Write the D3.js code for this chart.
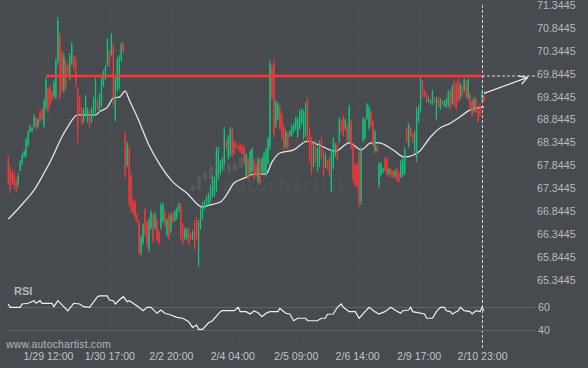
<!DOCTYPE html>
<html><head><meta charset="utf-8">
<script src="https://cdn.jsdelivr.net/npm/d3@7"></script>
<style>html,body{margin:0;padding:0;background:#474a4f;overflow:hidden}</style>
</head><body>
<svg id="c" width="588" height="368"></svg>
<script>
const opens=[67.97,67.75,67.68,67.62,67.50,67.40,67.72,67.88,68.02,68.05,
68.28,68.57,68.58,68.68,68.85,68.68,68.98,69.02,68.70,69.10,
69.48,69.52,69.43,69.34,69.32,70.08,70.65,70.28,69.47,70.06,
70.02,69.74,70.06,70.20,70.13,69.47,69.28,69.04,68.80,68.93,
68.80,68.99,68.80,68.93,69.02,69.22,69.02,69.15,69.58,69.73,
70.03,70.30,70.25,70.44,68.85,69.50,69.55,70.13,70.48,68.50,
67.85,68.20,67.60,67.07,67.02,66.75,66.58,65.92,66.14,66.86,
66.58,66.00,66.47,66.73,66.47,66.62,66.38,66.48,66.62,66.81,
66.32,66.73,66.40,66.77,66.63,66.68,66.84,66.95,66.52,66.24,
66.24,66.44,66.32,66.23,66.58,66.64,65.70,66.48,66.68,66.89,
66.95,67.00,67.05,67.17,67.19,67.32,67.57,67.66,67.77,67.90,
68.34,68.00,68.06,68.59,68.34,68.30,68.25,68.29,68.24,68.22,
67.63,67.94,67.63,67.71,67.94,67.84,67.50,67.94,67.66,67.70,
67.63,67.89,68.25,69.96,70.05,68.70,68.86,69.10,68.92,68.66,
68.25,68.51,68.48,68.48,68.57,68.63,68.48,68.64,68.75,68.44,
68.52,69.23,68.60,68.38,67.85,68.32,67.74,67.85,68.40,68.12,
67.81,67.92,67.96,67.32,67.79,68.05,68.28,68.37,68.78,68.88,
68.63,68.71,68.40,68.76,68.26,67.83,67.83,68.10,67.05,68.37,
68.43,68.86,68.65,68.99,68.77,68.15,68.24,67.40,67.62,67.68,
67.97,67.96,67.65,67.74,67.70,67.58,67.75,67.66,67.59,67.62,
67.67,68.62,68.26,68.64,68.51,68.15,67.98,68.80,69.02,69.64,
69.45,69.40,69.23,69.17,69.19,69.30,68.87,69.29,69.07,69.24,
69.13,69.11,69.14,69.43,69.19,69.64,69.60,69.69,69.30,69.55,
69.47,69.64,69.30,69.37,69.22,69.01,69.26,69.04,69.15,69.23,
69.35];
const highs=[68.03,67.82,67.73,67.69,67.55,67.66,67.95,68.10,68.17,68.43,
68.60,68.71,68.67,68.95,68.89,68.86,69.04,69.08,69.28,69.76,
69.54,69.58,69.48,69.69,70.17,71.07,70.72,70.35,70.28,70.13,
70.06,70.28,70.52,70.24,70.20,69.54,69.34,69.10,69.08,69.37,
69.10,69.04,69.10,69.32,69.74,69.26,69.41,69.76,69.91,70.02,
70.61,70.35,70.72,70.50,69.76,70.20,70.24,70.52,70.52,68.56,
68.34,68.27,67.66,67.12,67.07,66.79,66.64,66.31,66.57,66.92,
66.64,66.70,66.86,66.79,66.81,66.68,66.42,67.01,67.03,66.86,
66.68,66.79,66.79,66.81,66.86,66.92,67.01,67.01,66.57,66.48,
66.46,66.48,66.35,66.42,66.64,66.70,66.64,66.92,67.03,67.07,
67.18,67.23,67.40,67.62,67.58,68.23,68.23,67.95,68.01,68.67,
68.38,68.49,68.67,68.65,68.38,68.32,68.27,68.32,68.27,68.27,
68.10,67.99,68.17,68.23,67.99,67.88,68.01,67.99,68.01,68.12,
68.21,68.45,70.13,70.02,70.13,69.26,69.21,69.15,68.97,68.71,
68.60,68.56,68.60,68.71,68.76,68.89,68.89,69.04,69.08,69.04,
69.21,69.30,68.67,68.45,68.32,68.38,68.23,68.38,68.45,68.17,
68.10,67.95,68.01,68.17,68.45,68.32,68.32,68.89,68.82,68.93,
68.86,68.76,69.15,68.82,68.32,67.88,67.88,68.17,68.23,68.89,
68.86,69.19,69.15,69.04,68.82,68.60,68.27,67.90,67.90,67.79,
68.01,68.01,67.79,67.77,67.73,67.73,67.79,67.69,67.95,68.01,
68.23,68.67,68.76,68.67,68.54,68.60,69.10,69.15,69.76,69.69,
69.48,69.43,69.32,69.26,69.48,69.32,69.32,69.32,69.30,69.26,
69.26,69.30,69.48,69.48,69.58,69.69,69.65,69.74,69.65,69.58,
69.74,69.69,69.74,69.41,69.26,69.32,69.30,69.08,69.19,69.45,
69.37];
const lows=[67.40,67.23,67.40,67.34,67.23,67.36,67.69,67.84,67.99,68.01,
68.23,68.54,68.56,68.65,68.60,68.65,68.76,68.82,68.65,69.04,
68.97,69.10,69.21,69.30,69.26,70.02,69.26,69.43,69.41,69.48,
69.80,69.69,70.02,69.91,69.54,68.27,68.97,68.71,68.76,68.89,
68.76,68.65,68.76,68.89,68.97,69.04,68.97,69.10,69.54,69.69,
69.98,69.98,70.20,69.10,68.78,69.43,69.48,70.09,70.28,67.55,
67.79,66.92,66.79,66.75,66.64,66.57,65.87,65.87,66.09,66.27,
66.05,65.94,66.42,66.14,66.42,66.14,66.09,66.42,66.57,66.48,
66.27,66.20,66.35,66.57,66.59,66.64,66.81,66.20,66.09,66.20,
66.20,66.09,66.20,66.20,65.98,66.20,65.61,66.42,66.64,66.86,
66.92,66.96,67.01,67.12,67.14,67.25,67.51,67.62,67.73,67.84,
68.17,67.95,68.01,68.01,68.06,68.21,68.17,68.10,68.06,67.84,
67.58,67.51,67.58,67.66,67.51,67.58,67.45,67.40,67.62,67.66,
67.58,67.84,68.17,69.26,68.43,68.65,68.82,68.60,68.38,68.17,
68.21,68.17,68.45,68.45,68.54,68.60,68.43,68.60,68.71,68.38,
68.45,68.32,67.88,67.62,67.79,67.88,67.69,67.79,67.99,67.58,
67.77,67.73,67.58,67.25,67.73,68.01,67.95,68.32,68.54,68.45,
68.60,68.34,68.34,68.17,67.45,67.36,67.34,66.92,66.96,68.32,
68.38,68.82,68.60,68.67,68.23,68.10,68.10,67.34,67.58,67.66,
67.69,67.58,67.62,67.55,67.55,67.55,67.47,67.45,67.55,67.58,
67.62,68.32,68.21,68.45,68.32,68.10,67.90,68.76,68.97,69.30,
69.32,69.19,69.21,69.15,69.15,69.19,68.82,69.10,69.04,69.15,
69.10,69.08,69.10,69.04,69.15,69.10,69.04,69.19,69.26,69.32,
69.43,69.30,69.26,69.04,68.89,68.97,68.97,68.76,68.89,69.19,
69.21];
const closes=[67.48,67.30,67.45,67.40,67.30,67.60,67.90,68.05,68.13,68.38,
68.55,68.67,68.64,68.90,68.65,68.82,68.80,68.86,69.22,69.70,
69.02,69.15,69.26,69.63,70.10,70.98,69.32,69.50,70.20,69.54,
69.84,70.22,70.46,69.95,69.60,68.60,69.02,68.76,69.03,69.32,
69.05,68.70,69.05,69.27,69.68,69.08,69.36,69.70,69.86,69.97,
70.55,70.03,70.66,69.30,69.70,70.13,70.18,70.46,70.32,67.65,
68.28,67.00,66.86,66.80,66.70,66.61,65.95,66.26,66.52,66.33,
66.10,66.64,66.80,66.20,66.76,66.20,66.13,66.95,66.98,66.53,
66.63,66.26,66.74,66.61,66.82,66.88,66.97,66.27,66.14,66.44,
66.42,66.14,66.23,66.38,66.04,66.26,66.58,66.86,66.98,67.03,
67.14,67.19,67.35,67.57,67.53,68.16,68.17,67.90,67.97,68.60,
68.21,68.44,68.61,68.07,68.10,68.23,68.19,68.13,68.09,67.89,
68.05,67.56,68.12,68.18,67.56,67.62,67.96,67.45,67.97,68.07,
68.16,68.40,70.05,69.32,68.50,69.20,69.16,68.65,68.43,68.22,
68.56,68.22,68.57,68.67,68.72,68.85,68.84,68.99,69.04,68.98,
69.15,68.40,67.95,67.70,68.26,67.94,68.18,68.32,68.04,67.64,
68.06,67.76,67.63,68.10,68.39,68.28,67.99,68.84,68.58,68.50,
68.82,68.38,69.09,68.22,67.52,67.41,67.39,67.00,68.16,68.84,
68.81,69.14,69.10,68.71,68.28,68.55,68.13,67.85,67.86,67.76,
67.73,67.63,67.76,67.58,67.58,67.70,67.51,67.48,67.91,67.96,
68.18,68.36,68.70,68.48,68.35,68.55,69.03,69.10,69.70,69.34,
69.35,69.22,69.30,69.24,69.44,69.21,69.27,69.13,69.26,69.17,
69.23,69.27,69.43,69.08,69.54,69.15,69.09,69.23,69.60,69.35,
69.70,69.34,69.70,69.08,68.93,69.28,69.01,68.79,68.93,69.40,
69.24];
// moving average (sampled at candle indices)
const maIdx=[0,3,8,13,18,21,24,27,30,35,40,44,46,50,53,56,59,61,65,71,76,83,90,98,101,107,110,114,119,124,130,133,137,144,151,157,165,172,178,183,187,194,200,207,213,218,223,228,233,240];
const maVal=[66.66,66.79,67.03,67.29,67.66,67.90,68.17,68.45,68.67,68.93,68.93,68.93,69.00,69.10,69.30,69.32,69.45,69.26,68.89,68.27,67.88,67.47,67.23,66.92,66.96,67.03,67.18,67.45,67.55,67.64,67.64,67.90,68.10,68.17,68.36,68.27,68.14,68.32,68.17,68.32,68.32,68.17,68.01,68.12,68.45,68.65,68.75,68.89,69.04,69.10];
// RSI
const rsiIdx=[0,1,6,7,10,13,14,16,17,22,23,25,28,30,33,36,38,41,45,46,50,51,53,54,56,58,60,61,63,65,68,70,72,75,77,79,82,85,88,91,93,95,96,98,101,103,107,108,114,116,117,120,122,124,126,128,130,132,136,137,140,142,144,146,150,151,156,158,160,161,164,166,168,169,172,175,177,180,182,185,187,190,193,195,198,199,202,203,204,210,211,214,216,218,220,221,223,224,226,227,228,230,233,234,236,238,239,240];
const rsiVal=[62.3,59.5,59.5,62.3,62.9,65.1,62.9,65.1,62.9,62.9,60.0,65.1,60.0,56.4,62.9,62.3,60.0,59.5,68.5,69.1,69.1,65.7,65.1,62.3,65.7,68.5,64.2,65.1,62.9,60.6,56.6,59.5,59.5,54.4,57.2,54.4,53.0,51.0,50.2,47.3,42.5,44.5,40.8,40.8,46.4,48.1,55.8,56.6,56.6,59.5,55.8,55.8,53.8,56.4,54.9,51.5,54.4,55.8,55.8,58.6,54.4,53.8,48.1,50.2,50.2,48.1,48.1,50.2,50.2,53.6,53.8,59.5,62.3,59.5,55.8,55.8,50.2,55.8,59.5,55.8,53.8,55.8,59.5,57.2,54.4,56.6,57.2,59.5,55.8,53.8,50.2,50.2,55.8,59.5,59.5,56.6,55.8,53.8,55.8,56.6,59.5,56.6,55.8,53.8,56.6,55.8,59.5,56.6];
const rsiLevels=[60,40];
// axes
const xTickIdx=[20,51,82,113,145,176,207,239];
const xTickLabels=["1/29 12:00","1/30 17:00","2/2 20:00","2/4 04:00","2/5 09:00","2/6 14:00","2/9 17:00","2/10 23:00"];
const yTicks=[71.3445,70.8445,70.3445,69.8445,69.3445,68.8445,68.3445,67.8445,67.3445,66.8445,66.3445,65.8445,65.3445];
// pattern: resistance & forecast
const resistance={level:69.78,fromIdx:19,toIdx:239};
const forecastIdx=[240,262];
const forecastVal=[69.40,69.75];
const projEndIdx=267;
const nowIdx=239;

const W=588,H=368;
const FONT='"Liberation Sans", Arial, sans-serif';
const svg=d3.select('#c');
svg.append('rect').attr('width',W).attr('height',H).attr('fill','#474a4f');

const x=d3.scaleLinear().domain([0,240]).range([8.3,484]);
const y=d3.scaleLinear().domain([65.3445,71.3445]).range([279.3,4.3]);
const yr=d3.scaleLinear().domain([40,60]).range([330.3,306.7]);

// faint grid
const grid=svg.append('g').attr('stroke','#4b4e53').attr('stroke-width',1);
grid.selectAll('.hg').data(yTicks).join('line')
  .attr('x1',0).attr('x2',535).attr('y1',d=>Math.round(y(d))+0.5).attr('y2',d=>Math.round(y(d))+0.5);
grid.selectAll('.vg').data(xTickIdx).join('line')
  .attr('x1',d=>Math.round(x(d))+0.5).attr('x2',d=>Math.round(x(d))+0.5).attr('y1',0).attr('y2',340);

// watermark
const wm=svg.append('g').attr('fill','#56595e');
[[191,185,4,6],[197,176,4,14],[203,172,4,9],[209,166,4,13],[215,169,4,7],[221,160,4,12],[227,164,4,9],[233,163,4,8],[239,157,4,11]]
 .forEach(r=>wm.append('rect').attr('x',r[0]).attr('y',r[1]).attr('width',r[2]).attr('height',r[3]).attr('rx',1.5));
svg.append('text').attr('x',223).attr('y',191).attr('font-family','"Open Sans", sans-serif').attr('font-weight',300)
  .attr('font-size',18).attr('letter-spacing',2.2).attr('fill','#56595e').text('autochartist');

// MA line
const maData=maIdx.map((d,i)=>[d,maVal[i]]);
svg.append('path').datum(maData)
  .attr('d',d3.line().x(d=>x(d[0])).y(d=>y(d[1])).curve(d3.curveMonotoneX))
  .attr('fill','none').attr('stroke','#e4e4e4').attr('stroke-width',1.3);

// candles
const GREEN='#14c27b', RED='#f5393b';
const candles=opens.map((o,i)=>({i,o,h:highs[i],l:lows[i],c:closes[i]}));
const cg=svg.append('g');
cg.selectAll('line').data(candles).join('line')
  .attr('x1',d=>x(d.i)).attr('x2',d=>x(d.i)).attr('y1',d=>y(d.h)).attr('y2',d=>y(d.l))
  .attr('stroke',d=>d.c>=d.o?GREEN:RED).attr('stroke-width',1);
cg.selectAll('rect').data(candles).join('rect')
  .attr('x',d=>x(d.i)-0.65).attr('width',1.3)
  .attr('y',d=>y(Math.max(d.o,d.c))).attr('height',d=>Math.max(1,Math.abs(y(d.o)-y(d.c))))
  .attr('fill',d=>d.c>=d.o?GREEN:RED);

// resistance line
svg.append('line').attr('x1',x(resistance.fromIdx)).attr('x2',x(resistance.toIdx))
  .attr('y1',y(resistance.level)).attr('y2',y(resistance.level))
  .attr('stroke','#ff3535').attr('stroke-width',2.5);

// vertical dashed "now" line
svg.append('line').attr('x1',Math.round(x(nowIdx))+0.5).attr('x2',Math.round(x(nowIdx))+0.5).attr('y1',5).attr('y2',350)
  .attr('stroke','#cfcfcf').attr('stroke-width',1).attr('stroke-dasharray','3,2');
// horizontal dashed projection
svg.append('line').attr('x1',x(nowIdx)).attr('x2',x(projEndIdx))
  .attr('y1',y(resistance.level)).attr('y2',y(resistance.level))
  .attr('stroke','#d8d8d8').attr('stroke-width',1).attr('stroke-dasharray','3,2');
// forecast arrow
const ax0=x(forecastIdx[0]),ay0=y(forecastVal[0]),ax1=x(forecastIdx[1]),ay1=y(forecastVal[1]);
svg.append('line').attr('x1',ax0).attr('y1',ay0).attr('x2',ax1).attr('y2',ay1)
  .attr('stroke','#ececec').attr('stroke-width',1.3);
const ang=Math.atan2(ay1-ay0,ax1-ax0);
[0.5,-0.5].forEach(a=>{
  svg.append('line').attr('x1',ax1).attr('y1',ay1)
   .attr('x2',ax1-9*Math.cos(ang+a)).attr('y2',ay1-9*Math.sin(ang+a))
   .attr('stroke','#ececec').attr('stroke-width',1.3);
});

// y axis labels
const yAx=svg.append('g').attr('transform','translate(537,0)')
  .call(d3.axisRight(y).tickValues(yTicks).tickSize(0).tickPadding(0).tickFormat(d=>d.toFixed(4)));
yAx.select('.domain').remove();
yAx.selectAll('text').attr('dy','0.38em').attr('fill','#b9bbbe').attr('font-family',FONT).attr('font-size',10.7);

// RSI panel
svg.append('g').selectAll('line').data(rsiLevels).join('line')
  .attr('x1',7).attr('x2',535).attr('y1',d=>Math.round(yr(d))+0.5).attr('y2',d=>Math.round(yr(d))+0.5)
  .attr('stroke','#5f6267').attr('stroke-width',1);
svg.append('g').selectAll('text').data(rsiLevels).join('text')
  .attr('x',538).attr('y',d=>yr(d)).attr('dy','0.38em').text(d=>d)
  .attr('fill','#b9bbbe').attr('font-family',FONT).attr('font-size',10.7);
const rsiData=rsiIdx.map((d,i)=>[d,rsiVal[i]]);
svg.append('path').datum(rsiData)
  .attr('d',d3.line().x(d=>x(d[0])).y(d=>yr(d[1])))
  .attr('fill','none').attr('stroke','#f0f0f0').attr('stroke-width',1.2);
svg.append('text').attr('x',14).attr('y',295).text('RSI')
  .attr('fill','#b5b7ba').attr('font-family',FONT).attr('font-weight','bold').attr('font-size',11);

// x axis labels
const xAx=svg.append('g').attr('transform','translate(0,350)')
  .call(d3.axisBottom(x).tickValues(xTickIdx).tickSize(0).tickPadding(2.5).tickFormat((d,i)=>xTickLabels[i]));
xAx.select('.domain').remove();
xAx.selectAll('text').attr('fill','#c0c2c5').attr('font-family',FONT).attr('font-size',10.6);

svg.append('text').attr('x',6).attr('y',348).text('www.autochartist.com')
  .attr('fill','#b5b7ba').attr('font-family',FONT).attr('font-size',10.4).attr('letter-spacing',0.2);
</script>
</body></html>
